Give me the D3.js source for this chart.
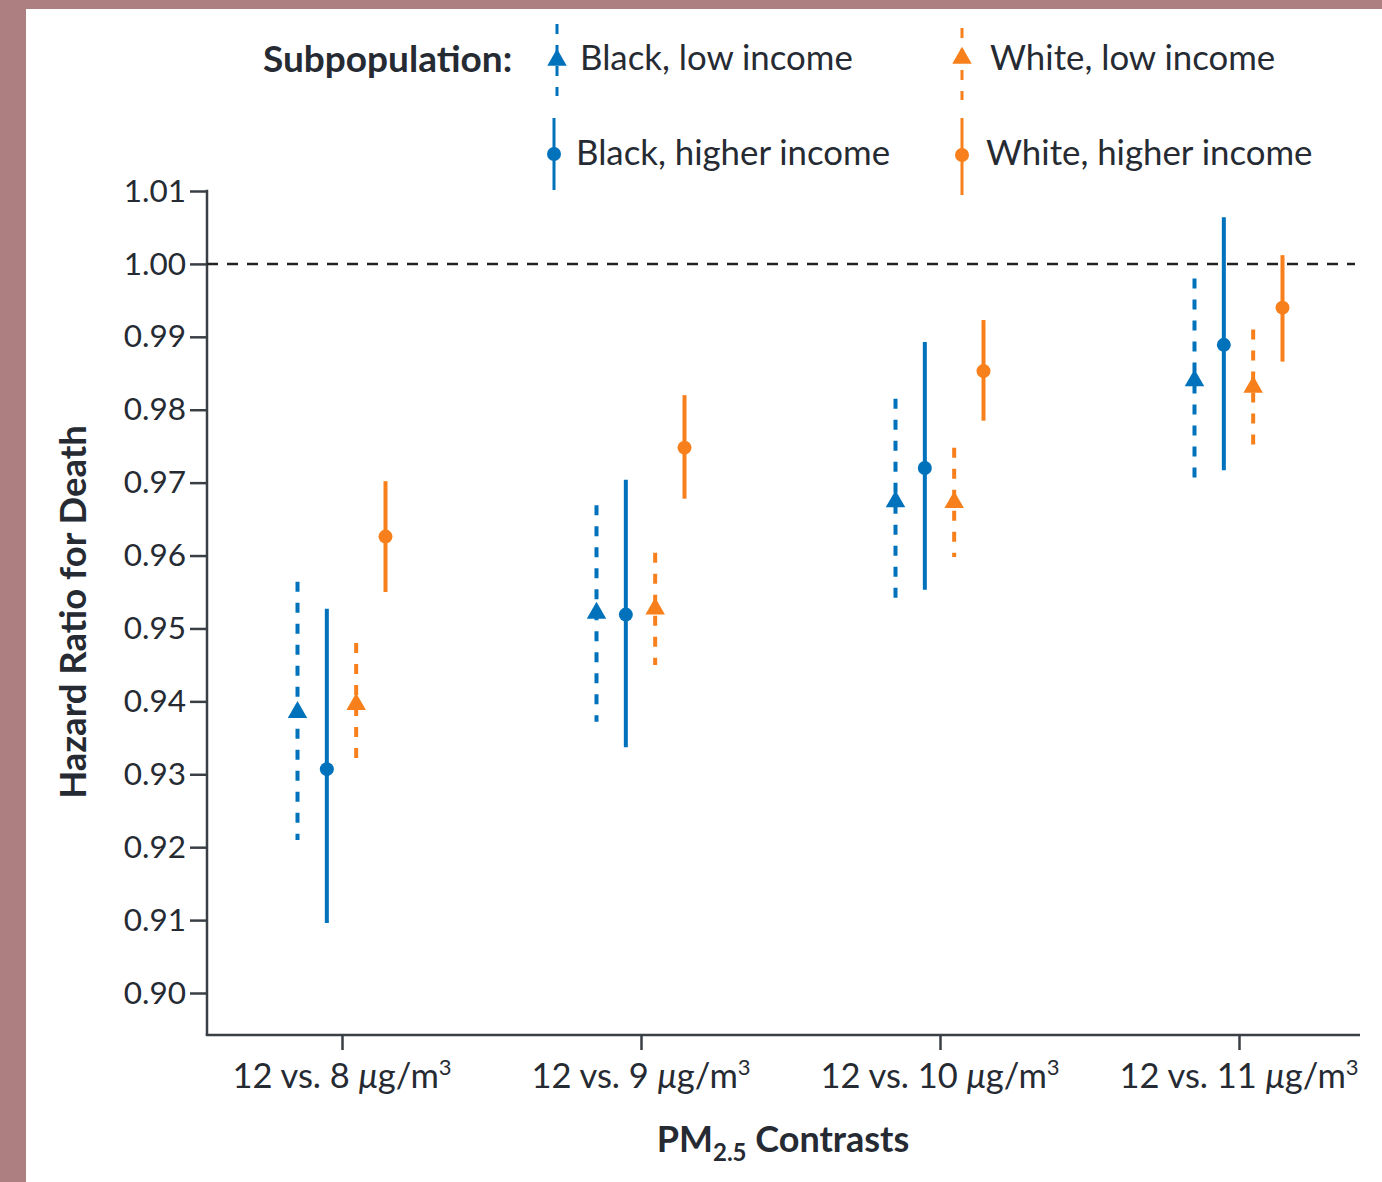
<!DOCTYPE html>
<html>
<head>
<meta charset="utf-8">
<script src="https://cdn.jsdelivr.net/npm/d3@7"></script>
<style>
  html, body { margin: 0; padding: 0; background: #ad7f80; }
  svg { display: block; }
  text { font-family: Lato, "Open Sans", sans-serif; fill: #262b33; }
</style>
</head>
<body>
<svg id="chart" width="1382" height="1182"></svg>
<script>
// PM2.5 contrasts on the x axis
const contrasts = ["12 vs. 8", "12 vs. 9", "12 vs. 10", "12 vs. 11"];

// Subpopulation series
const seriesNames = ["Black, low income", "Black, higher income", "White, low income", "White, higher income"];
const seriesColors = ["#0072bc", "#0072bc", "#f7801c", "#f7801c"];
const seriesShapes = ["triangle", "circle", "triangle", "circle"];
const seriesDashed = [true, false, true, false];

// Hazard ratio estimates (rows: series, columns: contrasts)
const hrEstimate = [
  [0.9385, 0.9521, 0.9674, 0.9840],
  [0.9307, 0.9519, 0.9720, 0.9889],
  [0.9396, 0.9527, 0.9673, 0.9831],
  [0.9626, 0.9748, 0.9853, 0.9940]
];
// 95% confidence interval bounds
const ciLower = [
  [0.9210, 0.9372, 0.9535, 0.9697],
  [0.9096, 0.9337, 0.9553, 0.9717],
  [0.9310, 0.9450, 0.9598, 0.9752],
  [0.9550, 0.9678, 0.9785, 0.9866]
];
const ciUpper = [
  [0.9564, 0.9669, 0.9815, 0.9980],
  [0.9527, 0.9704, 0.9893, 1.0064],
  [0.9480, 0.9604, 0.9748, 0.9910],
  [0.9702, 0.9820, 0.9923, 1.0012]
];

// Y axis ticks
const yTicks = [0.90, 0.91, 0.92, 0.93, 0.94, 0.95, 0.96, 0.97, 0.98, 0.99, 1.00, 1.01];

const svg = d3.select("#chart");
const ink = "#262b33";
const axisColor = "#3a3f46";

// white panel
svg.append("rect").attr("x", 26).attr("y", 9).attr("width", 1382 - 26).attr("height", 1182 - 9).attr("fill", "#fff");

const x0 = 207, x1 = 1360, yBottom = 1035;
const y = d3.scaleLinear().domain([0.90, 1.01]).range([993, 191]);
const x = d3.scalePoint().domain(contrasts).range([342, 1239]);
const offset = d3.scalePoint().domain(d3.range(4)).range([-44.5, 43.5]);

// Y axis
const yAxis = d3.axisLeft(y).tickValues(yTicks).tickFormat(d3.format(".2f")).tickSize(17).tickPadding(4);
const gy = svg.append("g").attr("transform", `translate(${x0},0)`).call(yAxis);
gy.select(".domain").remove();
gy.selectAll(".tick line").attr("stroke", axisColor).attr("stroke-width", 2.5);
gy.selectAll(".tick text").attr("font-size", 31.5).attr("fill", ink).style("font-family", "Lato, sans-serif");
svg.append("line").attr("x1", x0).attr("x2", x0).attr("y1", y(1.01) - 1.25).attr("y2", yBottom)
  .attr("stroke", axisColor).attr("stroke-width", 2.5);

// X axis
const xAxis = d3.axisBottom(x).tickSize(15).tickFormat("").tickSizeOuter(0);
const gx = svg.append("g").attr("transform", `translate(0,${yBottom})`).call(xAxis);
gx.select(".domain").remove();
gx.selectAll(".tick line").attr("stroke", axisColor).attr("stroke-width", 2.5);
svg.append("line").attr("x1", x0 - 1.25).attr("x2", x1).attr("y1", yBottom).attr("y2", yBottom)
  .attr("stroke", axisColor).attr("stroke-width", 2.5);

// x tick labels with italic mu and superscript 3
const xl = svg.append("g").selectAll("text").data(contrasts).join("text")
  .attr("x", d => x(d)).attr("y", 1088).attr("text-anchor", "middle").attr("font-size", 34.5);
xl.append("tspan").text(d => d + " ");
xl.append("tspan").attr("font-style", "italic").text("\u03bc");
xl.append("tspan").text("g/m");
xl.append("tspan").attr("font-size", 22).attr("dy", -13).text("3");

// x axis title
const xt = svg.append("text").attr("x", 783).attr("y", 1152).attr("text-anchor", "middle")
  .attr("font-size", 36).attr("font-weight", 700);
xt.append("tspan").text("PM");
xt.append("tspan").attr("font-size", 24).attr("dy", 9).text("2.5");
xt.append("tspan").attr("dy", -9).text(" Contrasts");

// y axis title
svg.append("text").attr("transform", "translate(86,612) rotate(-90)").attr("text-anchor", "middle")
  .attr("font-size", 36.5).attr("font-weight", 700).text("Hazard Ratio for Death");

// reference line at HR = 1
svg.append("line").attr("x1", x0).attr("x2", 1355).attr("y1", y(1)).attr("y2", y(1))
  .attr("stroke", "#222").attr("stroke-width", 2.5).attr("stroke-dasharray", "11,9");

// marker shapes
const triSym = d3.symbol().type(d3.symbolTriangle).size(165);
function marker(g, shape, color, cx, cy) {
  if (shape === "circle") {
    g.append("circle").attr("cx", cx).attr("cy", cy).attr("r", 7).attr("fill", color);
  } else {
    g.append("path").attr("d", triSym()).attr("transform", `translate(${cx},${cy})`).attr("fill", color);
  }
}

// error bars and points
const plot = svg.append("g");
seriesNames.forEach((name, s) => {
  contrasts.forEach((c, j) => {
    const cx = x(c) + offset(s);
    plot.append("line").attr("x1", cx).attr("x2", cx)
      .attr("y1", y(ciUpper[s][j])).attr("y2", y(ciLower[s][j]))
      .attr("stroke", seriesColors[s]).attr("stroke-width", 4)
      .attr("stroke-dasharray", seriesDashed[s] ? "10,11" : null);
    marker(plot, seriesShapes[s], seriesColors[s], cx, y(hrEstimate[s][j]));
  });
});

// legend
svg.append("text").attr("x", 263).attr("y", 72).attr("font-size", 37).attr("font-weight", 700).text("Subpopulation:");
const legendPos = [
  { lx: 557, cy: 60, y1: 24, y2: 96, tx: 580, ty: 70 },
  { lx: 554, cy: 154, y1: 118, y2: 190, tx: 576, ty: 165 },
  { lx: 962, cy: 58, y1: 28, y2: 100, tx: 990, ty: 70 },
  { lx: 962, cy: 155, y1: 118, y2: 195, tx: 986, ty: 165 }
];
const lg = svg.append("g");
seriesNames.forEach((name, s) => {
  const p = legendPos[s];
  lg.append("line").attr("x1", p.lx).attr("x2", p.lx).attr("y1", p.y1).attr("y2", p.y2)
    .attr("stroke", seriesColors[s]).attr("stroke-width", 3)
    .attr("stroke-dasharray", seriesDashed[s] ? "10,11" : null);
  marker(lg, seriesShapes[s], seriesColors[s], p.lx, p.cy);
  lg.append("text").attr("x", p.tx).attr("y", p.ty).attr("font-size", 34.8).text(name);
});
</script>
</body>
</html>
